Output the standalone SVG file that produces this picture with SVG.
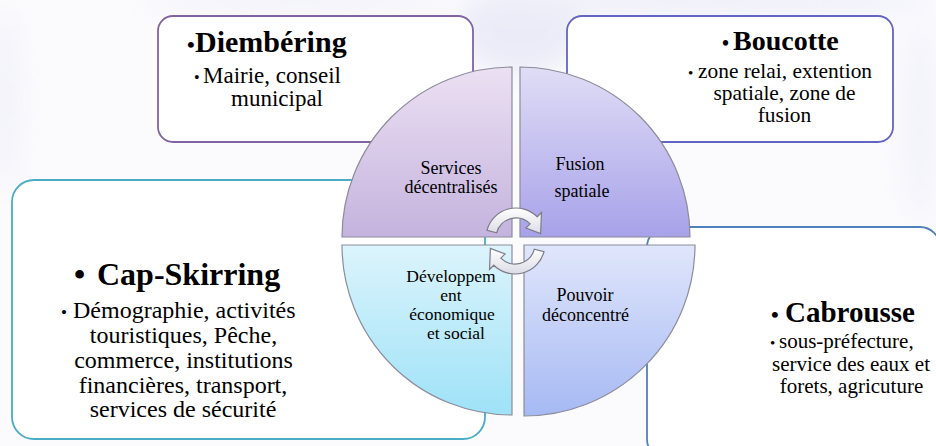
<svg xmlns="http://www.w3.org/2000/svg" width="936" height="446" viewBox="0 0 936 446" font-family="'Liberation Serif', 'Times New Roman', 'DejaVu Serif', serif">
  <defs>
    <style>
      text { font-family: "Liberation Serif", "Times New Roman", "DejaVu Serif", serif; fill: #000; }
      .title { font-weight: bold; }
      .box { fill: #ffffff; stroke-width: 1.8; }
      .quad { stroke: #8c8c9c; stroke-width: 1.2; }
      .arrow { fill: url(#gArrow); stroke: #7c7c8a; stroke-width: 1.2; }
      .q { font-size: 18px; text-anchor: middle; }
      .q2 { font-size: 17.5px; text-anchor: middle; }
      .mid { text-anchor: middle; }
    </style>
    <linearGradient id="gTL" x1="0" y1="0" x2="0" y2="1">
      <stop offset="0" stop-color="#ece0f3"/>
      <stop offset="1" stop-color="#c4b3de"/>
    </linearGradient>
    <linearGradient id="gTR" x1="0" y1="0" x2="0" y2="1">
      <stop offset="0" stop-color="#e0ddf6"/>
      <stop offset="1" stop-color="#a7a2e9"/>
    </linearGradient>
    <linearGradient id="gBL" x1="0" y1="0" x2="0" y2="1">
      <stop offset="0" stop-color="#dcf4fc"/>
      <stop offset="1" stop-color="#9ee2f8"/>
    </linearGradient>
    <linearGradient id="gBR" x1="0" y1="0" x2="0" y2="1">
      <stop offset="0" stop-color="#e0e6fb"/>
      <stop offset="1" stop-color="#a6b9f3"/>
    </linearGradient>
    <linearGradient id="gArrow" x1="0" y1="0" x2="0" y2="1">
      <stop offset="0" stop-color="#ffffff"/>
      <stop offset="1" stop-color="#dcdce6"/>
    </linearGradient>
    <filter id="blur" x="-50%" y="-50%" width="200%" height="200%">
      <feGaussianBlur stdDeviation="12"/>
    </filter>
  </defs>

  <!-- background -->
  <rect x="0" y="0" width="936" height="446" fill="#fbfbfe"/>
  <g filter="url(#blur)" opacity="0.6">
    <ellipse cx="520" cy="30" rx="60" ry="45" fill="#e2e2f4"/>
    <ellipse cx="700" cy="2" rx="240" ry="14" fill="#e6e6f6"/>
    <ellipse cx="300" cy="2" rx="160" ry="12" fill="#ececf7"/>
    <ellipse cx="6" cy="100" rx="14" ry="90" fill="#ebebf6"/>
    <ellipse cx="920" cy="120" rx="20" ry="100" fill="#eeeef8"/>
  </g>

  <!-- outer boxes -->
  <g id="node-diembering">
    <rect class="box" x="158" y="16" width="315" height="126" rx="15" stroke="#8064a2"/>
    <text class="title" x="187" y="52" font-size="22">•</text>
    <text class="title" x="195" y="52" font-size="30">Diembéring</text>
    <text x="194" y="83" font-size="16">•</text>
    <text x="203" y="83" font-size="23">Mairie, conseil</text>
    <text class="mid" x="277" y="106" font-size="23">municipal</text>
  </g>

  <g id="node-boucotte">
    <rect class="box" x="567" y="16" width="326" height="126" rx="15" stroke="#6464c4"/>
    <text class="title" x="722" y="50" font-size="20">•</text>
    <text class="title" x="733" y="50" font-size="28">Boucotte</text>
    <text x="688" y="78" font-size="15">•</text>
    <text x="698" y="78" font-size="21.4">zone relai, extention</text>
    <text class="mid" x="784.5" y="100" font-size="21.4">spatiale, zone de</text>
    <text class="mid" x="784.5" y="122" font-size="21.4">fusion</text>
  </g>

  <g id="node-capskirring">
    <rect class="box" x="12" y="180" width="473" height="259" rx="22" stroke="#4bacc6"/>
    <text class="title" x="74" y="285" font-size="32">•</text>
    <text class="title" x="97" y="285" font-size="32">Cap-Skirring</text>
    <text x="61" y="318" font-size="17">•</text>
    <text x="73" y="318" font-size="24">Démographie, activités</text>
    <text class="mid" x="183.5" y="343" font-size="24">touristiques, Pêche,</text>
    <text class="mid" x="183.5" y="368" font-size="24">commerce, institutions</text>
    <text class="mid" x="183" y="393" font-size="24">financières, transport,</text>
    <text class="mid" x="183" y="417" font-size="24">services de sécurité</text>
  </g>

  <g id="node-cabrousse">
    <rect class="box" x="647" y="227" width="293" height="232" rx="20" stroke="#4f81bd"/>
    <text class="title" x="771" y="322" font-size="22">•</text>
    <text class="title" x="785" y="322" font-size="29">Cabrousse</text>
    <text x="770" y="348" font-size="15">•</text>
    <text x="779" y="348" font-size="21">sous-préfecture,</text>
    <text class="mid" x="851" y="371" font-size="21">service des eaux et</text>
    <text class="mid" x="851.5" y="393" font-size="21">forets, agricuture</text>
  </g>

  <!-- central circle quadrants -->
  <g id="node-services">
    <path class="quad" d="M512 237 L342 237 A170 170 0 0 1 512 67 Z" fill="url(#gTL)"/>
    <text class="q" x="451" y="174">Services</text>
    <text class="q" x="451" y="193">décentralisés</text>
  </g>
  <g id="node-fusion">
    <path class="quad" d="M520 237 L520 67 A170 170 0 0 1 690 237 Z" fill="url(#gTR)"/>
    <text class="q" x="580" y="170">Fusion</text>
    <text class="q" x="582" y="197">spatiale</text>
  </g>
  <g id="node-developpement">
    <path class="quad" d="M512 245 L512 415 A170 170 0 0 1 342 245 Z" fill="url(#gBL)"/>
    <text class="q2" x="451" y="282">Développem</text>
    <text class="q2" x="451" y="301">ent</text>
    <text class="q2" x="452" y="320">économique</text>
    <text class="q2" x="456" y="339">et social</text>
  </g>
  <g id="node-pouvoir">
    <path class="quad" d="M524 245 L695 245 A171 171 0 0 1 524 416 Z" fill="url(#gBR)"/>
    <text class="q" x="585" y="301">Pouvoir</text>
    <text class="q" x="585.5" y="321">déconcentré</text>
  </g>

  <!-- circular arrows -->
  <g id="connectors">
    <path class="arrow" d="M487.02 230.24 A30 30 0 0 1 537.21 216.79 L541.46 212.54 L540.62 233.66 L525.9 228.1 L530.14 223.86 A20 20 0 0 0 496.68 232.82 Z"/>
    <path class="arrow" d="M543.98 251.76 A30 30 0 0 1 493.79 265.21 L489.54 269.46 L490.38 248.34 L505.1 253.9 L500.86 258.14 A20 20 0 0 0 534.32 249.18 Z"/>
  </g>
</svg>
